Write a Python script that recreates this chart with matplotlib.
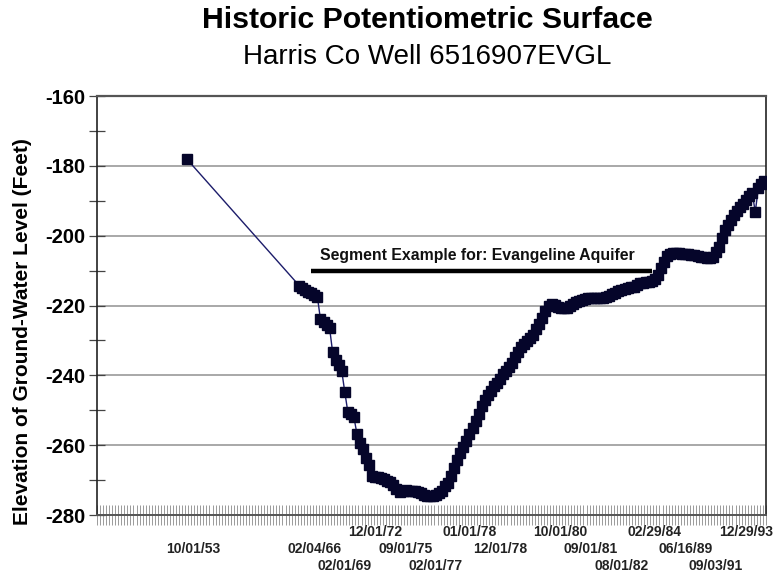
import numpy as np
import matplotlib
matplotlib.use('Agg')
import matplotlib.pyplot as plt

plt.rcParams['font.family'] = ['Liberation Sans', 'DejaVu Sans']

# category axis: one slot per measurement date
n_categories = 220

# first (isolated) measurement
first_idx = 29
first_level = -178.0

# continuous record, one value per category starting at start_idx
start_idx = 66
levels = [
    -214.3, -215.0, -215.5, -216.0, -216.4, -216.9, -217.6,
    -224.0, -224.8, -225.7, -226.5,
    -233.4, -235.5, -237.0, -238.8,
    -244.8, -250.5, -251.2, -252.0,
    -256.8, -259.3, -261.0, -263.6, -265.7,
    -268.8, -269.0, -269.2, -269.5, -269.8, -270.3, -270.5, -271.5, -272.5,
    -273.3, -273.0, -272.8, -273.0, -273.2, -273.2, -273.5, -273.8, -274.2,
    -274.5, -274.6, -274.6, -274.3, -273.8, -273.0, -271.8, -270.8,
    -268.9, -266.6, -264.3, -262.3, -260.6, -258.9, -256.8, -255.1, -253.1,
    -251.1, -248.8, -247.1, -245.7, -244.5, -243.1, -242.2, -241.1, -239.7,
    -238.8, -237.7, -236.5, -234.8, -233.4, -231.9, -231.1, -230.2, -229.3,
    -228.5, -226.8, -225.3, -223.6, -221.6, -220.2, -219.6, -219.9, -220.5,
    -220.7, -220.7, -220.7, -220.2, -219.6, -219.0, -218.7, -218.5, -218.2,
    -217.9, -217.9, -217.9, -217.9, -217.9, -217.9, -217.6, -217.3, -216.7,
    -216.4, -215.9, -215.6, -215.3, -215.0, -214.7, -214.7, -214.2, -213.6,
    -213.6, -213.3, -213.3, -213.0, -212.4, -211.3, -209.3, -207.6, -205.8,
    -205.3, -205.0, -205.0, -205.0, -205.3, -205.3, -205.3, -205.6, -205.6,
    -205.8, -206.1, -206.1, -206.4, -206.4, -206.1, -204.7, -203.3, -200.7,
    -198.4, -197.0, -195.5, -194.1, -193.0, -191.8, -190.9, -189.8, -188.7,
    -187.8, -193.2, -186.4, -185.2, -184.4,
]

# date labels under the axis (category index, text, row)
date_idx = [31, 71, 81, 91, 101, 111, 122, 132, 152, 162, 172, 183, 193, 203, 213]
date_txt = ['10/01/53', '02/04/66', '02/01/69', '12/01/72', '09/01/75', '02/01/77',
            '01/01/78', '12/01/78', '10/01/80', '09/01/81', '08/01/82', '02/29/84',
            '06/16/89', '09/03/91', '12/29/93']
date_row = [2, 2, 3, 1, 2, 3, 1, 2, 1, 2, 3, 1, 2, 3, 1]

# Evangeline segment marker
seg_from, seg_to, seg_level = 70, 182, -210.0
seg_text = 'Segment Example for: Evangeline Aquifer'

x_main = np.arange(start_idx, start_idx + len(levels))
x_all = np.concatenate([[first_idx], x_main])
y_all = np.concatenate([[first_level], levels])

fig = plt.figure(figsize=(7.76, 5.75), dpi=100)
ax = fig.add_axes([0.125, 0.1043, 0.862, 0.7287])

ax.plot(x_all, y_all, color='#1c1c6a', lw=1.0, marker='s', ms=6.8,
        mfc='#05052a', mec='#05052a', zorder=3)

ax.set_xlim(-0.5, n_categories - 0.5)
ax.set_ylim(-280, -160)

# y axis
ax.set_yticks(np.arange(-280, -159, 20))
ax.set_yticks(np.arange(-270, -160, 20), minor=True)
ax.set_yticklabels([str(v) for v in range(-280, -159, 20)],
                   fontsize=14.5, fontweight='bold')
ax.tick_params(axis='y', which='both', direction='inout', length=11,
               width=0.9, color='#444444', pad=3)
ax.yaxis.grid(True, which='major', color='#a8a8a8', lw=1.4)
ax.set_axisbelow(True)

# x axis: a tick for every category, labels drawn by hand
ax.set_xticks(np.arange(0, n_categories + 1) - 0.5)
ax.set_xticklabels([])
ax.tick_params(axis='x', which='major', direction='inout', length=14,
               width=0.6, color='#8a8a8a')

for sp in ['left', 'right']:
    ax.spines[sp].set_color('#222222')
    ax.spines[sp].set_linewidth(1.2)
ax.spines['top'].set_color('#555555')
ax.spines['top'].set_linewidth(1.6)
ax.spines['bottom'].set_color('#555555')
ax.spines['bottom'].set_linewidth(1.4)

row_offset = {1: -17, 2: -34, 3: -51}
for i, t, r in zip(date_idx, date_txt, date_row):
    ax.annotate(t, xy=(i, 0), xycoords=('data', 'axes fraction'),
                xytext=(0, row_offset[r] * 0.72), textcoords='offset points',
                ha='center', va='center', fontsize=10, fontweight='bold',
                color='#222222', annotation_clip=False)

ax.plot([seg_from, seg_to], [seg_level, seg_level], color='black', lw=3.2,
        solid_capstyle='butt', zorder=2)
ax.text(seg_from + 3, seg_level + 4.4, seg_text, fontsize=11.4,
        fontweight='bold', ha='left', va='center', color='#111111')

fig.text(0.029, 0.424, 'Elevation of Ground-Water Level (Feet)', rotation=90,
         ha='center', va='center', fontsize=15, fontweight='bold')

fig.text(0.551, 0.966, 'Historic Potentiometric Surface', ha='center',
         va='center', fontsize=21.8, fontweight='bold')
fig.text(0.551, 0.900, 'Harris Co Well 6516907EVGL', ha='center',
         va='center', fontsize=20)

fig.savefig('out.png', dpi=100)
